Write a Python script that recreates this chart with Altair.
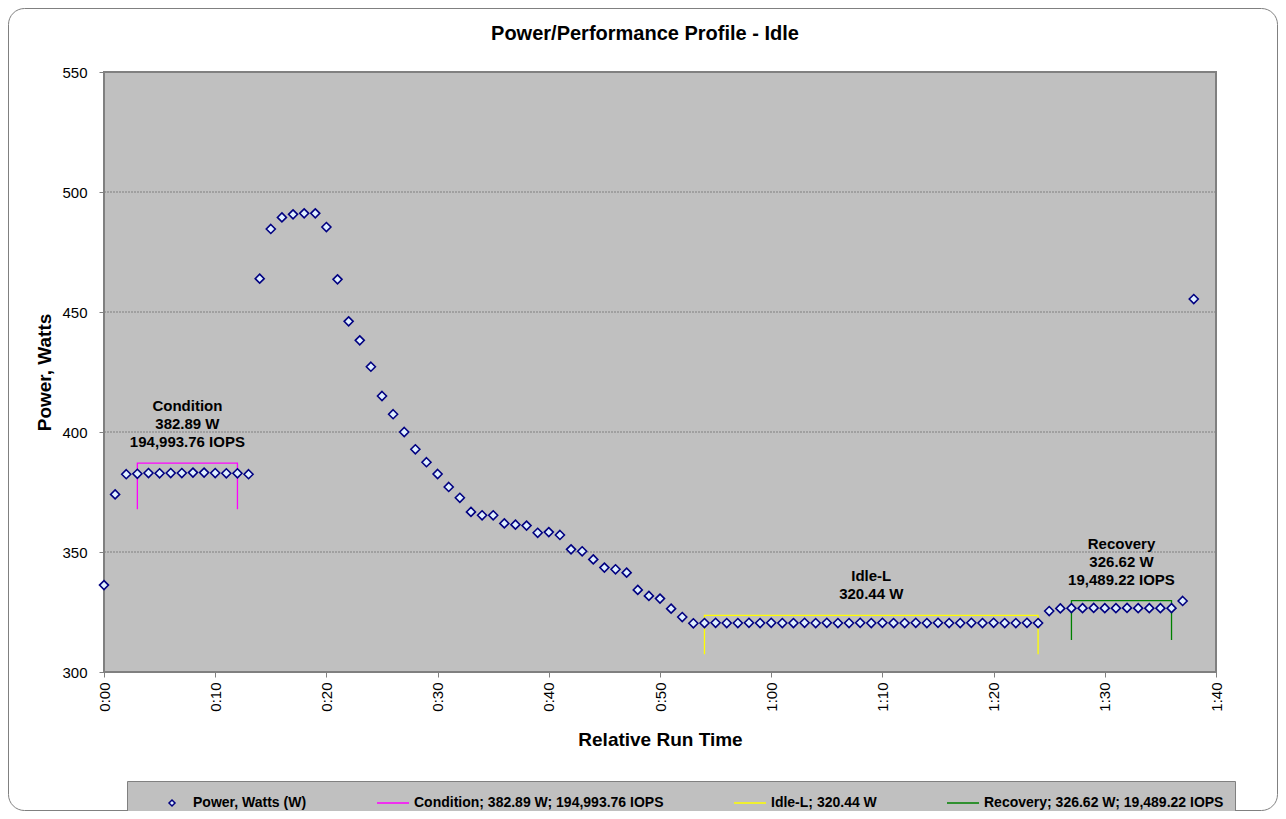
import altair as alt
import pandas as pd

# ---------------- data ----------------
minutes = list(range(99))
power_w = [
    336.2, 374.0, 382.4, 382.6, 382.9, 382.8, 382.9, 382.9, 383.1, 383.1,
    382.9, 382.8, 382.8, 382.4, 463.9, 484.6, 489.4, 490.7, 491.1, 491.1,
    485.4, 463.6, 446.1, 438.2, 427.2, 415.0, 407.4, 400.0, 392.8, 387.4,
    382.5, 377.1, 372.6, 366.7, 365.3, 365.3, 361.9, 361.4, 361.0, 358.0,
    358.3, 357.1, 351.1, 350.3, 346.9, 343.5, 342.8, 341.4, 334.2, 331.7,
    330.6, 326.4, 322.9, 320.3, 320.4, 320.5, 320.4, 320.4, 320.5, 320.4,
    320.5, 320.4, 320.4, 320.5, 320.4, 320.5, 320.4, 320.4, 320.5, 320.4,
    320.5, 320.4, 320.4, 320.5, 320.4, 320.5, 320.4, 320.4, 320.5, 320.4,
    320.5, 320.4, 320.4, 320.5, 320.4, 325.4, 326.5, 326.6, 326.6, 326.7,
    326.6, 326.6, 326.7, 326.6, 326.6, 326.6, 326.6, 329.6, 455.4,
]

series_names = [
    "Power, Watts (W)",
    "Condition; 382.89 W; 194,993.76 IOPS",
    "Idle-L; 320.44 W",
    "Recovery; 326.62 W; 19,489.22 IOPS",
]
series_colors = ["#000080", "#FF00FF", "#FFFF00", "#008000"]
# small diamond for the power series, horizontal stroke for the bracket lines
series_shapes = ["M0,-0.3L0.3,0L0,0.3L-0.3,0Z", "M-1.6,0L1.6,0", "M-1.6,0L1.6,0", "M-1.6,0L1.6,0"]

bracket_series = series_names[1:]
bracket_start = [3, 54, 87]
bracket_end = [12, 84, 96]
bracket_top = [387.0, 323.6, 329.7]
bracket_bottom = [367.8, 307.4, 313.3]
bracket_labels = [
    "Condition\n382.89 W\n194,993.76 IOPS",
    "Idle-L\n320.44 W",
    "Recovery\n326.62 W\n19,489.22 IOPS",
]

x_ticks = [0, 10, 20, 30, 40, 50, 60, 70, 80, 90, 100]
x_tick_labels = ["0:00", "0:10", "0:20", "0:30", "0:40", "0:50",
                 "1:00", "1:10", "1:20", "1:30", "1:40"]
y_ticks = [300, 350, 400, 450, 500, 550]
grid_values = [350, 400, 450, 500]

chart_title = "Power/Performance Profile - Idle"

# ---------------- tables ----------------
points_df = pd.DataFrame({"minute": minutes, "power": power_w, "series": series_names[0]})

rows = []
for s, a, b, hi, lo in zip(bracket_series, bracket_start, bracket_end, bracket_top, bracket_bottom):
    for step, (m, p) in enumerate([(a, lo), (a, hi), (b, hi), (b, lo)]):
        rows.append({"series": s, "step": step, "minute": m, "power": p})
bracket_df = pd.DataFrame(rows)

label_rows = []
for a, b, hi, txt in zip(bracket_start, bracket_end, bracket_top, bracket_labels):
    for k, line in enumerate(reversed(txt.split("\n"))):
        label_rows.append({"minute": (a + b) / 2, "power": hi, "line": line, "k": k})
labels_df = pd.DataFrame(label_rows)

frame_df = pd.DataFrame({"minute": [x_ticks[0]], "minute2": [x_ticks[-1]],
                         "power": [y_ticks[0]], "power2": [y_ticks[-1]]})
grid_df = pd.DataFrame({"power": grid_values})
one_df = pd.DataFrame({"t": [chart_title]})

# ---------------- styling ----------------
FONT = "Liberation Sans"
W, H = 1112, 600
PAD = {"left": 96, "top": 64, "right": 62, "bottom": 139}

label_expr = " : ".join(
    f"datum.value == {v} ? '{l}'" for v, l in zip(x_ticks, x_tick_labels)
) + " : ''"

xscale = alt.Scale(domain=[x_ticks[0], x_ticks[-1]], nice=False, zero=False)
yscale = alt.Scale(domain=[y_ticks[0], y_ticks[-1]], nice=False, zero=False)

xaxis = alt.Axis(
    values=x_ticks, labelExpr=label_expr, labelAngle=270, labelAlign="right",
    labelBaseline="middle", labelFont=FONT, labelFontSize=15, labelColor="black",
    labelPadding=5, tickSize=5, tickColor="#808080", tickWidth=1,
    domain=False, grid=False, title="Relative Run Time", titleFont=FONT,
    titleFontSize=19, titleFontWeight="bold", titleColor="black",
    titlePadding=19, zindex=1,
)
yaxis = alt.Axis(
    values=y_ticks, labelFont=FONT, labelFontSize=15, labelColor="black",
    labelPadding=12, tickSize=5, tickColor="#808080", tickWidth=1,
    domain=False, grid=False, title="Power, Watts", titleFont=FONT,
    titleFontSize=19, titleFontWeight="bold", titleColor="black",
    titlePadding=7, zindex=1,
)

X = lambda f="minute": alt.X(f"{f}:Q", scale=xscale, axis=xaxis, title="Relative Run Time")
Y = lambda f="power": alt.Y(f"{f}:Q", scale=yscale, axis=yaxis, title="Power, Watts")

legend = alt.Legend(
    title=None, orient="none", legendX=23, legendY=709, direction="horizontal",
    fillColor="#C0C0C0", strokeColor="#808080", padding=11,
    labelFont=FONT, labelFontSize=14, labelFontWeight="bold", labelColor="black",
    labelLimit=400, labelOffset=10, symbolOffset=23, columnPadding=52,
    symbolSize=400, symbolStrokeWidth=1.5, symbolFillColor="#E0F0FF",
    zindex=1,
)
color = alt.Color("series:N", scale=alt.Scale(domain=series_names, range=series_colors), legend=legend)
shape = alt.Shape("series:N", scale=alt.Scale(domain=series_names, range=series_shapes), legend=legend)

# ---------------- layers ----------------
outer = alt.Chart(one_df).mark_rect(
    fill="white", stroke="#808080", strokeWidth=1, cornerRadius=16
).encode(
    x=alt.value(-PAD["left"] + 0.5), x2=alt.value(W + PAD["right"] - 0.5),
    y=alt.value(-PAD["top"] + 0.5), y2=alt.value(H + PAD["bottom"] - 0.5),
)

plot_bg = alt.Chart(frame_df).mark_rect(fill="#C0C0C0").encode(
    x=X(), x2="minute2:Q", y=Y(), y2="power2:Q"
)

grid = alt.Chart(grid_df).mark_rule(stroke="#808080", strokeWidth=1, strokeDash=[2, 1]).encode(
    y=Y()
)

plot_border = alt.Chart(frame_df).mark_rect(
    fillOpacity=0, stroke="#808080", strokeWidth=2
).encode(x=X(), x2="minute2:Q", y=Y(), y2="power2:Q")

brackets = alt.Chart(bracket_df).mark_line(strokeWidth=1.3).encode(
    x=X(), y=Y(), color=color, order=alt.Order("step:Q")
)

points = alt.Chart(points_df).mark_point(
    filled=False, fill="#E0F0FF", fillOpacity=1, opacity=1, size=900, strokeWidth=1.6
).encode(x=X(), y=Y(), color=color, shape=shape)

label_layers = [
    alt.Chart(labels_df).transform_filter(alt.datum.k == k).mark_text(
        font=FONT, fontSize=15, fontWeight="bold", color="black",
        baseline="bottom", align="center", dy=-13 - 18 * k,
    ).encode(x=X(), y=Y(), text="line:N")
    for k in range(3)
]

title = alt.Chart(one_df).mark_text(
    font=FONT, fontSize=20, fontWeight="bold", color="black",
    align="center", baseline="middle",
).encode(x=alt.value(645 - 8 - PAD["left"]), y=alt.value(34 - 8 - PAD["top"]), text="t:N")

chart = alt.layer(outer, plot_bg, grid, plot_border, brackets, points, *label_layers, title).properties(
    width=W, height=H,
    padding=PAD,
    autosize=alt.AutoSizeParams(type="none"),
    background="white",
).configure_view(stroke=None)

chart.save("out.html", embed_options={"renderer": "svg", "actions": False})
